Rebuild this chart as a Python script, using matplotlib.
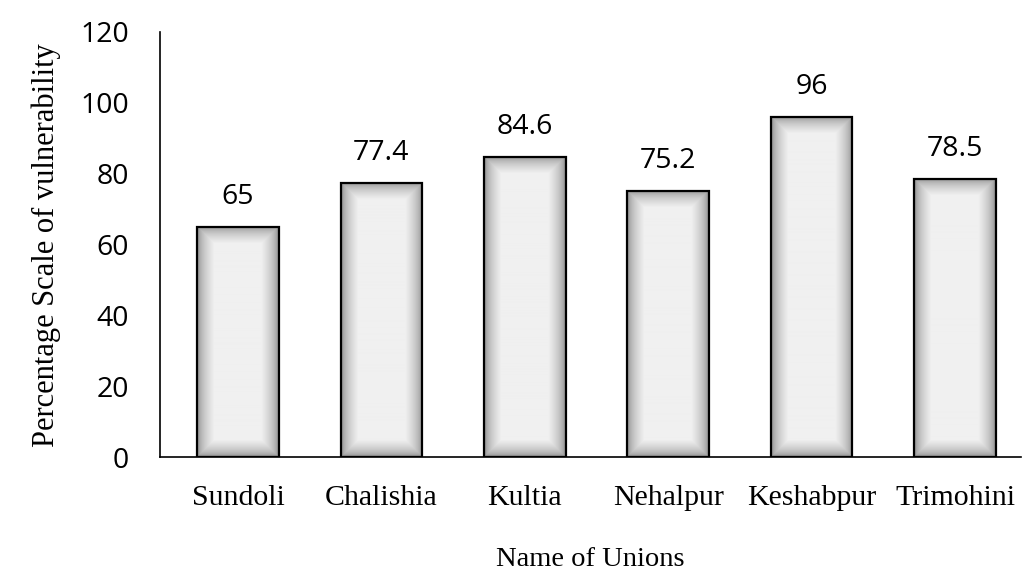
import numpy as np
import matplotlib.pyplot as plt

# === Data ===
unions = ["Sundoli", "Chalishia", "Kultia", "Nehalpur", "Keshabpur", "Trimohini"]
vulnerability = [65, 77.4, 84.6, 75.2, 96, 78.5]
value_labels = ["65", "77.4", "84.6", "75.2", "96", "78.5"]
y_ticks = [0, 20, 40, 60, 80, 100, 120]

fig = plt.figure(figsize=(10.25, 5.79), dpi=100)
ax = fig.add_axes([0.156, 0.21, 0.84, 0.735])

x = np.arange(len(unions))
bars = ax.bar(x, vulnerability, width=0.57, facecolor="none",
              edgecolor="black", linewidth=1.6, zorder=3)

# === Shaded fill: gray rim fading to a light centre ===
def rim_shade(w_px, h_px, rim=17):
    xx = np.arange(w_px)
    yy = np.arange(h_px)
    dx = np.minimum(xx, w_px - 1 - xx)[None, :]
    dy = np.minimum(yy, h_px - 1 - yy)[:, None]
    d = np.minimum(np.minimum(dx, rim), np.minimum(dy, rim)) / rim
    return 0.50 + 0.44 * np.sqrt(d)

for rect in bars:
    x0, w = rect.get_x(), rect.get_width()
    h = rect.get_height()
    shade = rim_shade(82, int(h * 3.6))
    im = ax.imshow(shade, cmap="gray", vmin=0, vmax=1, aspect="auto",
                   extent=(x0, x0 + w, 0, h), zorder=2, interpolation="bilinear")
    im.set_clip_path(rect)

for xi, v, lab in zip(x, vulnerability, value_labels):
    ax.text(xi, v + 4.5, lab, ha="center", va="bottom",
            fontsize=20.5, family="Open Sans")

ax.set_xlim(-0.545, 5.46)
ax.set_ylim(0, 120)
ax.set_yticks(y_ticks)
ax.set_yticklabels([str(t) for t in y_ticks], family="Open Sans", fontsize=20.5)
ax.set_xticks(x)
ax.set_xticklabels(unions, family="Liberation Serif", fontsize=21.5)
ax.tick_params(axis="both", length=0)
ax.tick_params(axis="x", pad=20)
ax.tick_params(axis="y", pad=22)

for side in ["top", "right"]:
    ax.spines[side].set_visible(False)
for side in ["left", "bottom"]:
    ax.spines[side].set_linewidth(1.2)

ax.set_ylabel("Percentage Scale of vulnerability", family="Liberation Serif",
              fontsize=22, labelpad=14)
ax.set_xlabel("Name of Unions", family="Liberation Serif", fontsize=20.5, labelpad=26)

plt.savefig("out.png", dpi=100)
plt.close()
